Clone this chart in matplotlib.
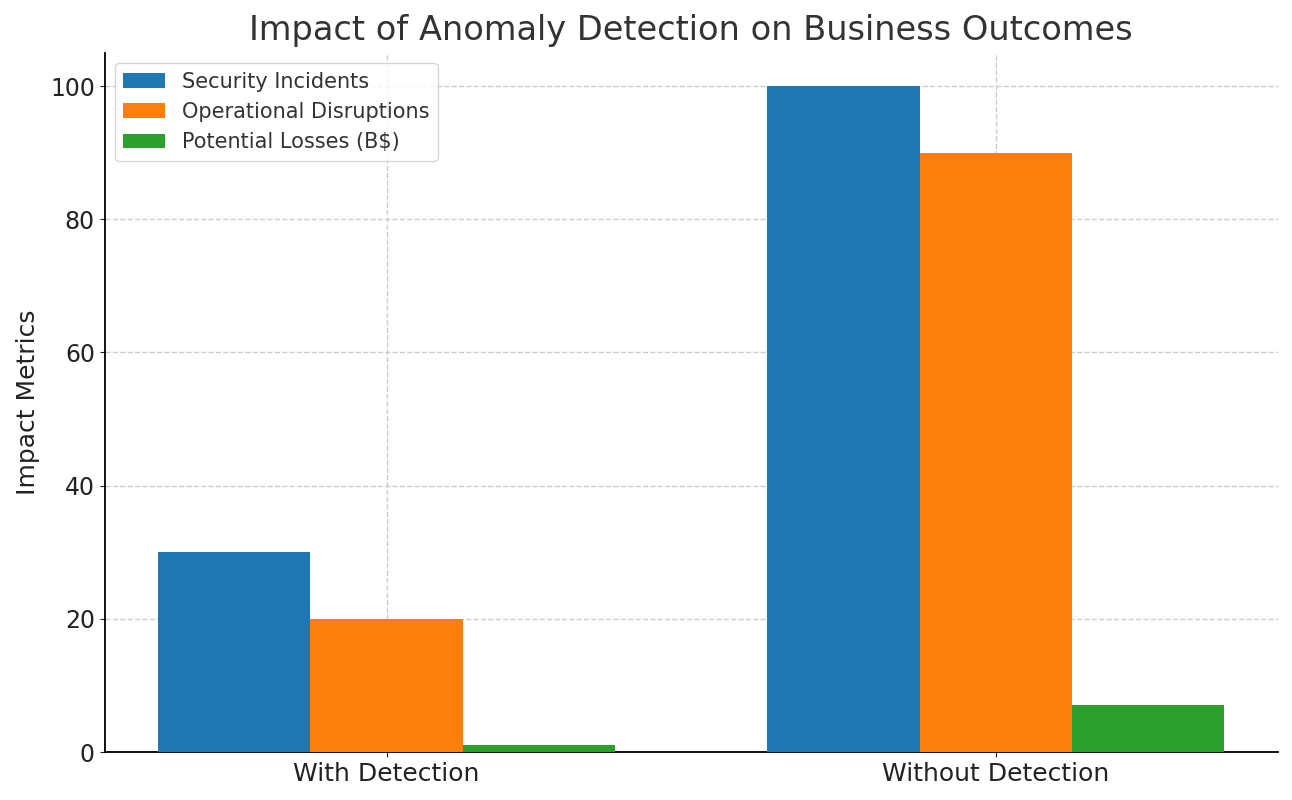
import numpy as np
import matplotlib.pyplot as plt

categories = ["With Detection", "Without Detection"]
security_incidents = [30, 100]
operational_disruptions = [20, 90]
potential_losses = [1, 7]

series = [
    ("Security Incidents", security_incidents, "#1f77b4"),
    ("Operational Disruptions", operational_disruptions, "#ff7f0e"),
    ("Potential Losses (B$)", potential_losses, "#2ca02c"),
]

fig, ax = plt.subplots(figsize=(12.92, 8), dpi=100)
x = np.arange(len(categories))
width = 0.25

for i, (label, vals, color) in enumerate(series):
    ax.bar(x + (i - 1) * width, vals, width, label=label, color=color, zorder=3)

ax.set_title("Impact of Anomaly Detection on Business Outcomes", fontsize=24.2, color="#333333", pad=9)
ax.set_ylabel("Impact Metrics", fontsize=18, color="#222222", labelpad=7)
ax.set_xticks(x)
ax.set_xticklabels(categories, fontsize=18)
ax.tick_params(axis="y", labelsize=17)
ax.tick_params(axis="both", colors="#222222")
ax.grid(True, linestyle="--", color="#cccccc", linewidth=1, zorder=0)
ax.spines["top"].set_visible(False)
ax.spines["right"].set_visible(False)
ax.spines["left"].set_linewidth(1.3)
ax.spines["bottom"].set_linewidth(1.3)
leg = ax.legend(loc="upper left", fontsize=15, labelcolor="#333333")

plt.subplots_adjust(left=0.081, right=0.989, top=0.934, bottom=0.06)
plt.savefig("out.png")
